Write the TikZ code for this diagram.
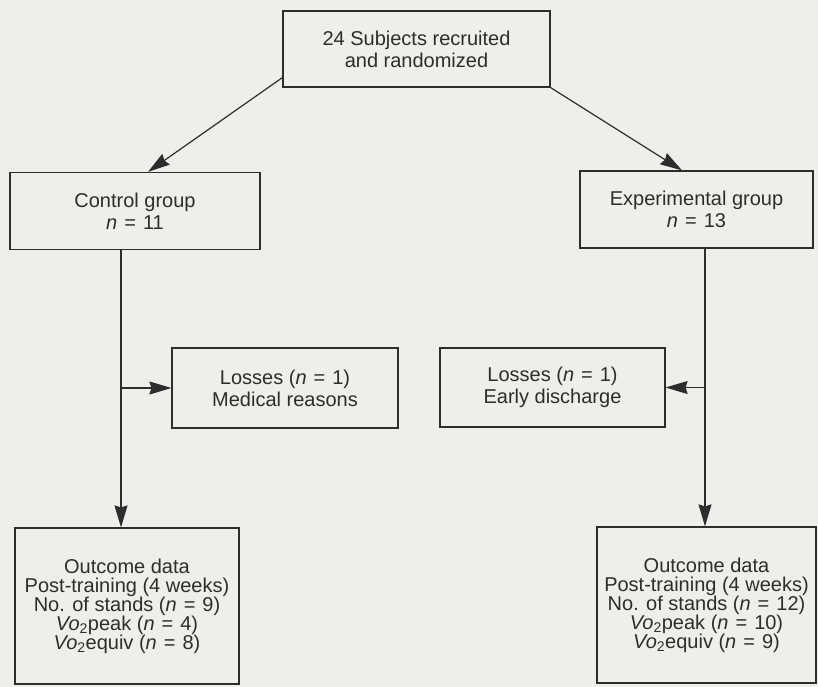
\documentclass[tikz,border=0pt]{standalone}
\usepackage{fontspec}
\setmainfont{Liberation Sans}
\usetikzlibrary{arrows.meta,calc}
\definecolor{bgc}{RGB}{238,238,234}
\definecolor{inkc}{RGB}{45,45,45}
\newcommand{\eqs}{\hspace{0.35em}=\hspace{0.35em}}
\begin{document}
\begin{tikzpicture}[x=1pt,y=-1pt,
  box/.style={draw=inkc, line width=1.2pt, text=inkc, align=center, inner sep=0pt,
    font=\fontsize{20}{22}\selectfont},
  outbox/.style={box, font=\fontsize{20}{19}\selectfont},
  arr/.style={draw=inkc, line width=1.2pt, -{Stealth[length=22pt,width=13pt,inset=2pt]}}]
\fill[bgc] (0,0) rectangle (818,687);
\useasboundingbox (0,0) rectangle (818,687);

\node[box, minimum width=267pt, minimum height=76pt] (top) at (416.5,49)
  {24 Subjects recruited\\and randomized};
\node[box, minimum width=250pt, minimum height=77pt] (ctrl) at (135,211)
  {Control group\\\textit{n}\eqs 11};
\node[box, minimum width=233pt, minimum height=77pt] (exp) at (696.5,209.5)
  {Experimental group\\\textit{n}\eqs 13};
\node[box, minimum width=226pt, minimum height=80pt] (lossL) at (285,388)
  {Losses (\textit{n}\eqs 1)\\Medical reasons};
\node[box, minimum width=225pt, minimum height=79pt] (lossR) at (552.5,387.5)
  {Losses (\textit{n}\eqs 1)\\Early discharge};
\node[outbox, minimum width=224pt, minimum height=156pt] (outL) at (127,606)
  {Outcome data\\Post-training (4 weeks)\\No. of stands (\textit{n}\eqs 9)\\
   \textit{Vo}\textsubscript{2}peak (\textit{n}\eqs 4)\\\textit{Vo}\textsubscript{2}equiv (\textit{n}\eqs 8)};
\node[outbox, minimum width=219pt, minimum height=156pt] (outR) at (706.5,605)
  {Outcome data\\Post-training (4 weeks)\\No. of stands (\textit{n}\eqs 12)\\
   \textit{Vo}\textsubscript{2}peak (\textit{n}\eqs 10)\\\textit{Vo}\textsubscript{2}equiv (\textit{n}\eqs 9)};

\draw[arr] ($(top.south west)+(0,-10)$) -- ($(ctrl.north)+(13,0)$);
\draw[arr] (top.south east) -- ($(exp.north)+(-14.5,0)$);

\coordinate (cA) at ($(ctrl.south)+(-14,0)$);
\coordinate (cB) at ($(exp.south)+(8.5,0)$);
\draw[arr] (cA) -- (cA |- outL.north);
\draw[arr] (cA |- lossL.west) -- (lossL.west);
\draw[arr] (cB) -- (cB |- outR.north);
\draw[arr] (cB |- lossR.east) -- (lossR.east);
\end{tikzpicture}
\end{document}
